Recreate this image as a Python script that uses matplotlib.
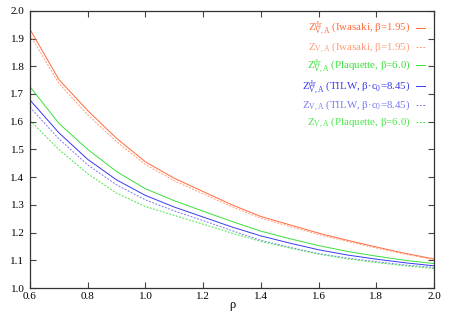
import matplotlib
matplotlib.use("Agg")
import matplotlib.pyplot as plt

rho = [0.6, 0.7, 0.8, 0.9, 1.0, 1.1, 1.2, 1.3, 1.4, 1.5, 1.6, 1.7, 1.8, 1.9, 2.0]

iwa_dr = [1.933, 1.752, 1.640, 1.540, 1.455, 1.396, 1.348, 1.300, 1.258, 1.228, 1.198, 1.172, 1.148, 1.125, 1.105]
iwa    = [1.913, 1.738, 1.625, 1.528, 1.445, 1.387, 1.340, 1.293, 1.252, 1.222, 1.193, 1.168, 1.144, 1.122, 1.102]
plaq_dr = [1.726, 1.594, 1.500, 1.420, 1.358, 1.315, 1.277, 1.240, 1.205, 1.178, 1.153, 1.132, 1.115, 1.100, 1.088]
tilw_dr = [1.678, 1.560, 1.464, 1.390, 1.334, 1.292, 1.256, 1.220, 1.188, 1.162, 1.138, 1.119, 1.104, 1.091, 1.080]
tilw    = [1.652, 1.538, 1.444, 1.372, 1.318, 1.278, 1.243, 1.207, 1.172, 1.147, 1.124, 1.108, 1.095, 1.083, 1.074]
plaq    = [1.604, 1.500, 1.412, 1.342, 1.294, 1.262, 1.230, 1.198, 1.168, 1.144, 1.122, 1.105, 1.092, 1.080, 1.070]

labels = [
    r'$\mathregular{Z^{dr}_{V,A}}$ (Iwasaki, β=1.95)',
    r'$\mathregular{Z_{V,A}}$ (Iwasaki, β=1.95)',
    r'$\mathregular{Z^{dr}_{V,A}}$ (Plaquette, β=6.0)',
    r'$\mathregular{Z^{dr}_{V,A}}$ (TILW, β·c$\mathregular{_0}$=8.45)',
    r'$\mathregular{Z_{V,A}}$ (TILW, β·c$\mathregular{_0}$=8.45)',
    r'$\mathregular{Z_{V,A}}$ (Plaquette, β=6.0)',
]

plt.rcParams['font.family'] = ['Liberation Serif', 'DejaVu Serif']
plt.rcParams['mathtext.fontset'] = 'custom'
plt.rcParams['mathtext.rm'] = 'Liberation Serif'
plt.rcParams['mathtext.it'] = 'Liberation Serif:italic'

fig = plt.figure(figsize=(4.5, 3.15), dpi=100)
ax = fig.add_axes([0.0667, 0.0857, 0.8977, 0.880])

orange = '#ff6a3a'
orange_l = '#ff9a78'
green = '#3ae03a'
green_l = '#4ae84a'
blue = '#3a3aee'
blue_l = '#7a7af0'

series = [
    (iwa_dr, orange, '-'),
    (iwa, orange_l, (0, (2, 1.5))),
    (plaq_dr, green, '-'),
    (tilw_dr, blue, '-'),
    (tilw, blue_l, (0, (2, 1.5))),
    (plaq, green_l, (0, (2, 1.5))),
]
for (vals, c, ls), lab in zip(series, labels):
    ax.plot(rho, vals, color=c, ls=ls, lw=0.7, label=lab)

ax.set_xlim(0.6, 2.0)
ax.set_ylim(1.0, 2.0)
ax.set_xticks([0.6, 0.8, 1.0, 1.2, 1.4, 1.6, 1.8, 2.0])
ax.set_yticks([1.0, 1.1, 1.2, 1.3, 1.4, 1.5, 1.6, 1.7, 1.8, 1.9, 2.0])
ax.xaxis.set_major_formatter(matplotlib.ticker.FormatStrFormatter('%.1f'))
ax.yaxis.set_major_formatter(matplotlib.ticker.FormatStrFormatter('%.1f'))
ax.tick_params(direction='in', top=True, right=True, length=4, width=0.8,
               labelsize=8, color='#444444')
ax.tick_params(axis='x', pad=3)
ax.tick_params(axis='y', pad=4)
for s in ax.spines.values():
    s.set_color('#333333')
    s.set_linewidth(0.9)
ax.set_xlabel('ρ', fontsize=9)
ax.xaxis.set_label_coords(0.5, -0.038)

leg = ax.legend(loc='upper right', bbox_to_anchor=(0.995, 0.99), frameon=False,
                markerfirst=False, labelcolor='linecolor', fontsize=7.8,
                handlelength=0.9, handletextpad=0.5, labelspacing=0.22,
                borderaxespad=0.2)
for t in leg.get_texts():
    t.set_ha('right')

fig.savefig('out.png', dpi=100)
